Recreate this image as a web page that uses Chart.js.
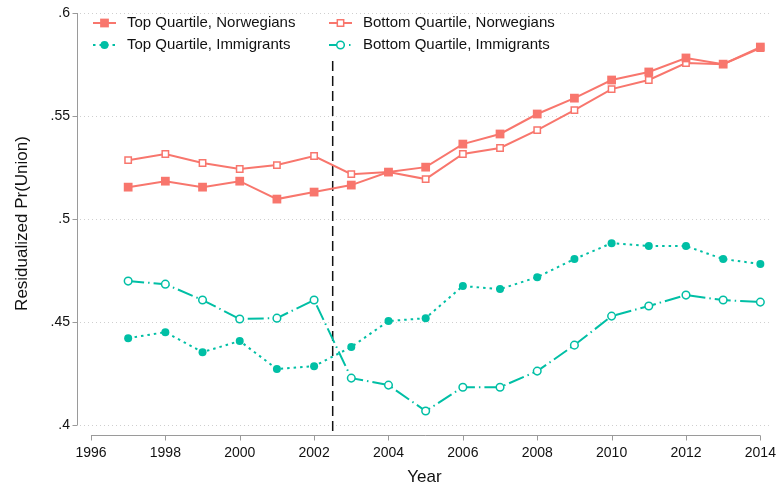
<!DOCTYPE html>
<html>
<head>
<meta charset="utf-8">
<script src="https://cdn.jsdelivr.net/npm/chart.js@4.4.0/dist/chart.umd.min.js"></script>
<style>
  body { margin: 0; background: #fff; }
</style>
</head>
<body>
<canvas id="myChart" width="778" height="490"></canvas>
<script>
const years = [1997, 1998, 1999, 2000, 2001, 2002, 2003, 2004, 2005, 2006, 2007, 2008, 2009, 2010, 2011, 2012, 2013, 2014];
const topNorwegians = [0.5155, 0.5184, 0.5155, 0.5184, 0.5097, 0.5131, 0.5165, 0.5228, 0.5252, 0.5364, 0.5413, 0.5510, 0.5587, 0.5675, 0.5714, 0.5782, 0.5752, 0.5835];
const bottomNorwegians = [0.5286, 0.5316, 0.5272, 0.5243, 0.5262, 0.5306, 0.5218, 0.5228, 0.5194, 0.5316, 0.5345, 0.5432, 0.5529, 0.5631, 0.5675, 0.5757, 0.5752, 0.5830];
const topImmigrants = [0.4422, 0.4451, 0.4354, 0.4408, 0.4272, 0.4286, 0.4379, 0.4505, 0.4519, 0.4675, 0.4660, 0.4718, 0.4806, 0.4883, 0.4869, 0.4869, 0.4806, 0.4782];
const bottomImmigrants = [0.4699, 0.4684, 0.4607, 0.4515, 0.4519, 0.4607, 0.4228, 0.4194, 0.4068, 0.4184, 0.4184, 0.4262, 0.4388, 0.4529, 0.4578, 0.4631, 0.4607, 0.4597];
const xTicks = [1996, 1998, 2000, 2002, 2004, 2006, 2008, 2010, 2012, 2014];
const yTicks = [0.4, 0.45, 0.5, 0.55, 0.6];
const cutoffYear = 2002.5;

const salmon = '#F8766D';
const teal = '#00BFA5';
const font = 'Liberation Sans, Arial, sans-serif';

function points(values) {
    return values.map((v, i) => ({ x: years[i], y: v }));
}

// axis lines, ticks, cutoff line and legend, Stata style
const extras = {
    id: 'extras',
    beforeDatasetsDraw(chart) {
        const ctx = chart.ctx;
        const x = chart.scales.x;
        const y = chart.scales.y;
        const area = chart.chartArea;
        ctx.save();
        ctx.strokeStyle = '#9a9a9a';
        ctx.lineWidth = 1;
        ctx.beginPath();
        const ax = area.left - 2.5;
        ctx.moveTo(ax, y.getPixelForValue(0.6));
        ctx.lineTo(ax, y.getPixelForValue(0.4));
        for (let t of yTicks) {
            const py = Math.round(y.getPixelForValue(t)) + 0.5;
            ctx.moveTo(ax - 5, py);
            ctx.lineTo(ax, py);
        }
        const ay = area.bottom - 0.5;
        ctx.moveTo(x.getPixelForValue(1996), ay);
        ctx.lineTo(x.getPixelForValue(2014), ay);
        for (let t of xTicks) {
            const px = Math.round(x.getPixelForValue(t)) + 0.5;
            ctx.moveTo(px, ay);
            ctx.lineTo(px, ay + 5);
        }
        ctx.stroke();

        ctx.strokeStyle = '#111';
        ctx.lineWidth = 1.5;
        ctx.setLineDash([10, 5]);
        ctx.beginPath();
        const cx = x.getPixelForValue(cutoffYear);
        ctx.moveTo(cx, 61);
        ctx.lineTo(cx, area.bottom);
        ctx.stroke();
        ctx.restore();
    },
    afterDraw(chart) {
        const ctx = chart.ctx;
        const spots = [[93, 23], [329, 23], [93, 45], [329, 45]];
        chart.data.datasets.forEach((ds, i) => {
            const [lx, ly] = spots[i];
            ctx.save();
            ctx.strokeStyle = ds.borderColor;
            ctx.lineWidth = ds.borderWidth;
            ctx.setLineDash(ds.borderDash || []);
            ctx.beginPath();
            ctx.moveTo(lx, ly);
            ctx.lineTo(lx + 23, ly);
            ctx.stroke();
            ctx.setLineDash([]);
            ctx.fillStyle = ds.pointBackgroundColor;
            ctx.strokeStyle = ds.pointBorderColor;
            ctx.lineWidth = ds.pointBorderWidth;
            Chart.helpers.drawPoint(ctx, {
                pointStyle: ds.pointStyle,
                radius: ds.pointRadius,
                rotation: 0,
                borderWidth: ds.pointBorderWidth
            }, lx + 11.5, ly);
            ctx.fillStyle = '#111';
            ctx.font = '15px ' + font;
            ctx.textBaseline = 'middle';
            ctx.fillText(ds.label, lx + 34, ly);
            ctx.restore();
        });
    }
};

const ctx = document.getElementById('myChart').getContext('2d');
const myChart = new Chart(ctx, {
    type: 'line',
    data: {
        datasets: [{
            label: 'Top Quartile, Norwegians',
            data: points(topNorwegians),
            borderColor: salmon,
            borderWidth: 2,
            pointStyle: 'rect',
            pointRadius: 6.2,
            pointBackgroundColor: salmon,
            pointBorderColor: salmon,
            pointBorderWidth: 0
        },
        {
            label: 'Bottom Quartile, Norwegians',
            data: points(bottomNorwegians),
            borderColor: salmon,
            borderWidth: 2,
            pointStyle: 'rect',
            pointRadius: 4.5,
            pointBackgroundColor: '#fff',
            pointBorderColor: salmon,
            pointBorderWidth: 1.5
        },
        {
            label: 'Top Quartile, Immigrants',
            data: points(topImmigrants),
            borderColor: teal,
            borderWidth: 2,
            borderDash: [2.5, 4],
            pointStyle: 'circle',
            pointRadius: 4,
            pointBackgroundColor: teal,
            pointBorderColor: teal,
            pointBorderWidth: 0
        },
        {
            label: 'Bottom Quartile, Immigrants',
            data: points(bottomImmigrants),
            borderColor: teal,
            borderWidth: 2,
            borderDash: [16, 4, 1.5, 4],
            pointStyle: 'circle',
            pointRadius: 3.8,
            pointBackgroundColor: '#fff',
            pointBorderColor: teal,
            pointBorderWidth: 1.5
        }]
    },
    options: {
        responsive: false,
        animation: false,
        devicePixelRatio: 1,
        layout: { padding: { top: 11, right: 3, left: 0, bottom: 0 } },
        plugins: {
            legend: { display: false },
            tooltip: { enabled: false }
        },
        scales: {
            x: {
                type: 'linear',
                min: 1995.705,
                max: 2014.23,
                afterBuildTicks: (scale) => { scale.ticks = xTicks.map(v => ({ value: v })); },
                afterFit: (scale) => { scale.height = 54; },
                grid: { display: false, drawTicks: true, tickLength: 7 },
                border: { display: false },
                ticks: {
                    color: '#111',
                    font: { family: font, size: 14 },
                    padding: 2,
                    maxRotation: 0,
                    callback: (v) => String(v)
                },
                title: {
                    display: true,
                    text: 'Year',
                    color: '#111',
                    font: { family: font, size: 17 },
                    padding: { top: 0, bottom: 2 }
                }
            },
            y: {
                min: 0.3947,
                max: 0.601,
                afterBuildTicks: (scale) => { scale.ticks = yTicks.map(v => ({ value: v })); },
                afterFit: (scale) => { scale.width = 80; },
                border: { display: false, dash: [1, 3] },
                grid: {
                    color: '#cfcfcf',
                    lineWidth: 1,
                    drawTicks: true,
                    tickLength: 8,
                    tickColor: 'rgba(0,0,0,0)'
                },
                ticks: {
                    color: '#111',
                    font: { family: font, size: 14 },
                    padding: 2,
                    callback: (v) => String(+v.toFixed(2)).replace(/^0/, '')
                },
                title: {
                    display: true,
                    text: 'Residualized Pr(Union)',
                    color: '#111',
                    font: { family: font, size: 17 },
                    padding: { top: 12, bottom: 0 }
                }
            }
        }
    },
    plugins: [extras]
});
</script>
</body>
</html>
